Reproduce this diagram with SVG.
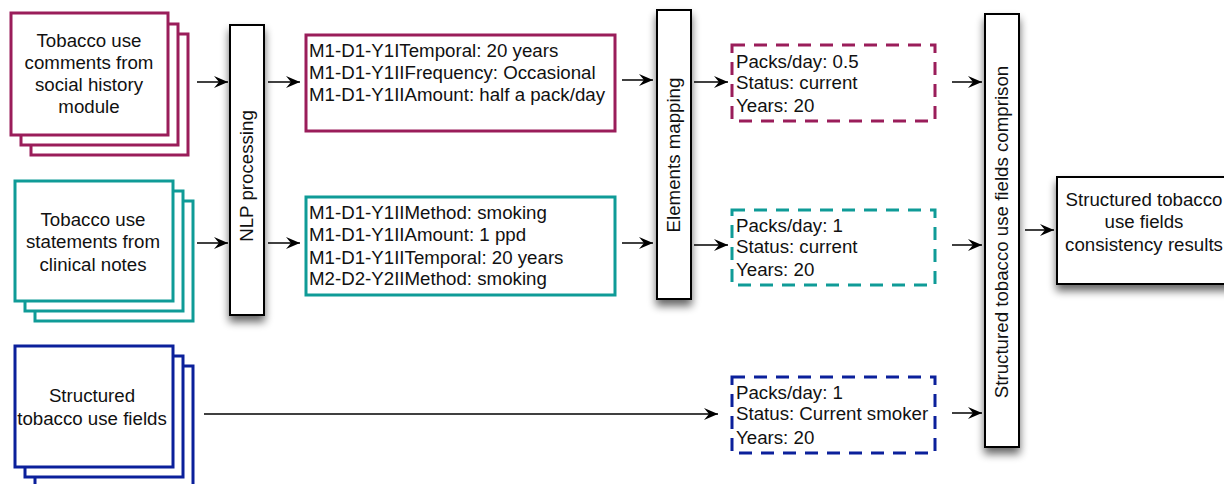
<svg xmlns="http://www.w3.org/2000/svg" width="1224" height="484" viewBox="0 0 1224 484">
<defs>
<filter id="sh" x="-50%" y="-20%" width="200%" height="140%">
<feGaussianBlur in="SourceAlpha" stdDeviation="4"/>
<feOffset dx="0" dy="6" result="b"/>
<feComponentTransfer><feFuncA type="linear" slope="0.6"/></feComponentTransfer>
<feMerge><feMergeNode/><feMergeNode in="SourceGraphic"/></feMerge>
</filter>
<marker id="ar" viewBox="0 0 14 12" refX="14" refY="6" markerWidth="14" markerHeight="12" markerUnits="userSpaceOnUse" orient="auto">
<path d="M0,0 L14,6 L0,12 L5,6 Z" fill="#000"/>
</marker>
</defs>
<style>
text{font-family:"Liberation Sans",Arial,sans-serif;font-size:18.7px;fill:#111}
.c{text-anchor:middle}
.m{fill:#fff;stroke:#9a1d5a;stroke-width:3}
.t{fill:#fff;stroke:#0f9b97;stroke-width:3}
.n{fill:#fff;stroke:#0b209b;stroke-width:3}
.md{fill:#fff;stroke:#9a1d5a;stroke-width:3;stroke-dasharray:13 9}
.td{fill:#fff;stroke:#0f9b97;stroke-width:3;stroke-dasharray:13 9}
.nd{fill:#fff;stroke:#0b209b;stroke-width:3;stroke-dasharray:13 9}
.p{fill:#fff;stroke:#000;stroke-width:2}
.e{stroke:#000;stroke-width:1.5;fill:none;marker-end:url(#ar)}
</style>

<g id="social-history">
<rect class="m" x="31" y="34" width="157" height="121"/>
<rect class="m" x="21" y="24" width="157" height="121"/>
<rect class="m" x="11" y="13" width="157" height="122"/>
<text class="c" x="89" y="47">Tobacco use</text>
<text class="c" x="89" y="69">comments from</text>
<text class="c" x="89" y="91">social history</text>
<text class="c" x="89" y="113">module</text>
</g>

<g id="clinical-notes">
<rect class="t" x="35" y="201" width="158" height="120"/>
<rect class="t" x="25" y="191" width="158" height="120"/>
<rect class="t" x="15" y="181" width="158" height="120"/>
<text class="c" x="93" y="226">Tobacco use</text>
<text class="c" x="93" y="248">statements from</text>
<text class="c" x="93" y="271">clinical notes</text>
</g>

<g id="structured-fields">
<rect class="n" x="35" y="366" width="158" height="125"/>
<rect class="n" x="25" y="356" width="158" height="121"/>
<rect class="n" x="15" y="346" width="158" height="121"/>
<text class="c" x="92" y="402">Structured</text>
<text class="c" x="92" y="425">tobacco use fields</text>
</g>

<g id="nlp">
<rect class="p" x="230" y="25" width="34" height="290" filter="url(#sh)"/>
<text class="c" transform="translate(253,176) rotate(-90)">NLP processing</text>
</g>

<g id="nlp-social">
<rect class="m" x="306" y="35" width="309" height="96"/>
<text x="309" y="57">M1-D1-Y1ITemporal: 20 years</text>
<text x="309" y="79">M1-D1-Y1IIFrequency: Occasional</text>
<text x="309" y="101">M1-D1-Y1IIAmount: half a pack/day</text>
</g>

<g id="nlp-clinical">
<rect class="t" x="306" y="197" width="309" height="98"/>
<text x="309" y="219">M1-D1-Y1IIMethod: smoking</text>
<text x="309" y="241">M1-D1-Y1IIAmount: 1 ppd</text>
<text x="309" y="264">M1-D1-Y1IITemporal: 20 years</text>
<text x="309" y="285">M2-D2-Y2IIMethod: smoking</text>
</g>

<g id="mapping">
<rect class="p" x="657" y="10" width="34" height="289" filter="url(#sh)"/>
<text class="c" transform="translate(680,155) rotate(-90)">Elements mapping</text>
</g>

<g id="mapped-social">
<rect class="md" x="732" y="45" width="203" height="76"/>
<text x="736" y="68">Packs/day: 0.5</text>
<text x="736" y="89">Status: current</text>
<text x="736" y="112">Years: 20</text>
</g>

<g id="mapped-clinical">
<rect class="td" x="732" y="210" width="203" height="75"/>
<text x="736" y="232">Packs/day: 1</text>
<text x="736" y="253">Status: current</text>
<text x="736" y="276">Years: 20</text>
</g>

<g id="mapped-structured">
<rect class="nd" x="732" y="377" width="203" height="76"/>
<text x="736" y="399">Packs/day: 1</text>
<text x="736" y="420">Status: Current smoker</text>
<text x="736" y="444">Years: 20</text>
</g>

<g id="comparison">
<rect class="p" x="985" y="14" width="34" height="433" filter="url(#sh)"/>
<text class="c" transform="translate(1008,232) rotate(-90)">Structured tobacco use fields comprison</text>
</g>

<g id="results">
<rect class="p" x="1057" y="177" width="176" height="107" filter="url(#sh)"/>
<text class="c" x="1144" y="206">Structured tobacco</text>
<text class="c" x="1144" y="228">use fields</text>
<text class="c" x="1144" y="251">consistency results</text>
</g>

<g id="connectors">
<line class="e" x1="197" y1="82" x2="228" y2="82"/>
<line class="e" x1="197" y1="243" x2="228" y2="243"/>
<line class="e" x1="268" y1="82" x2="300" y2="82"/>
<line class="e" x1="268" y1="243" x2="300" y2="243"/>
<line class="e" x1="622" y1="80" x2="653" y2="80"/>
<line class="e" x1="622" y1="243" x2="653" y2="243"/>
<line class="e" x1="694" y1="82" x2="728" y2="82"/>
<line class="e" x1="694" y1="245" x2="728" y2="245"/>
<line class="e" x1="204" y1="414" x2="718" y2="414"/>
<line class="e" x1="952" y1="82" x2="982" y2="82"/>
<line class="e" x1="952" y1="245" x2="982" y2="245"/>
<line class="e" x1="952" y1="413" x2="982" y2="413"/>
<line class="e" x1="1025" y1="230" x2="1054" y2="230"/>
</g>
</svg>
